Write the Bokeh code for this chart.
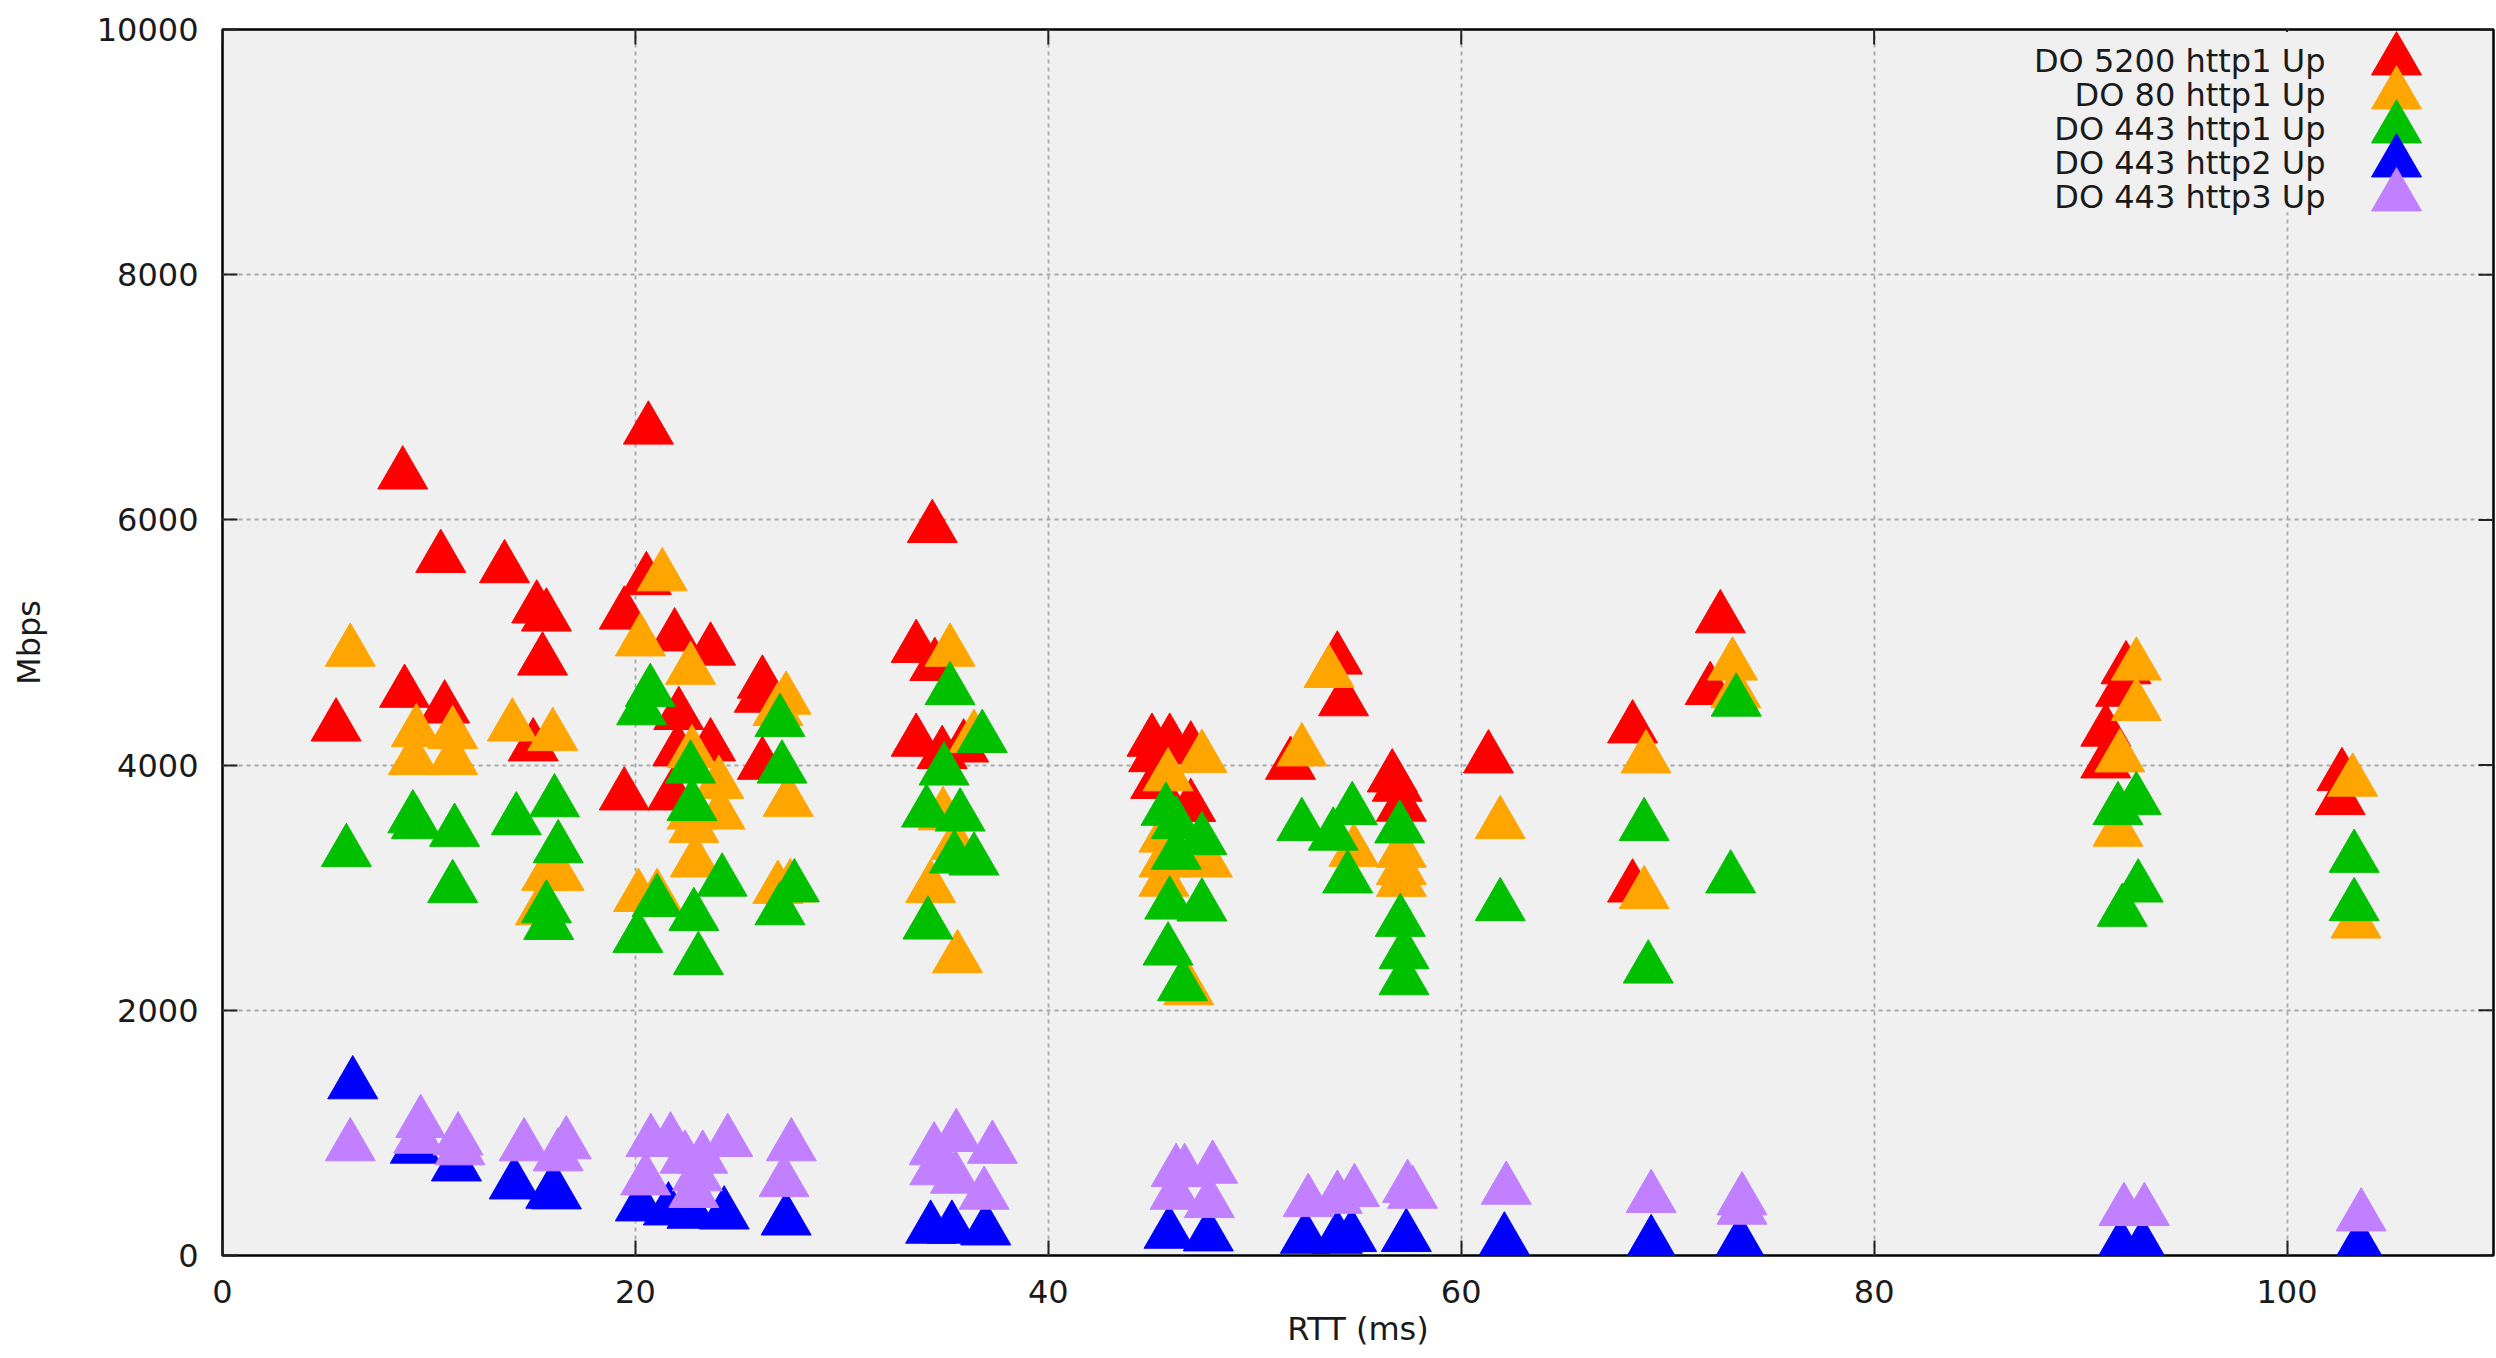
import math
from bokeh.plotting import figure
from bokeh.models import Range1d, FixedTicker
from bokeh.embed import file_html
from bokeh.resources import INLINE
from bokeh.core.properties import value

# ---------------- data ----------------
series_names = ["DO 5200 http1 Up", "DO 80 http1 Up", "DO 443 http1 Up",
                "DO 443 http2 Up", "DO 443 http3 Up"]
series_colors = ["#ff0000", "#ffa500", "#00c000", "#0000ff", "#c080ff"]

x_ticks = [0, 20, 40, 60, 80, 100]
y_ticks = [0, 2000, 4000, 6000, 8000, 10000]

red_rtt = [5.5, 8.73, 8.82, 10.57, 10.76, 13.66, 15.22, 15.69, 15.5, 15.05,
           20.63, 20.53, 19.46, 19.46, 21.9, 23.64, 22.1, 23.64, 22.05, 21.8,
           26.15, 26.0, 26.15, 34.38, 33.6, 34.5, 33.6, 34.86, 35.9,
           45.02, 45.88, 46.9, 45.1, 45.2, 46.9, 51.73, 54.0, 54.3,
           56.66, 56.9, 57.1, 61.32, 68.3, 68.3, 72.55, 72.06,
           92.2, 91.94, 91.22, 91.22, 102.66, 102.57]
red_mbps = [4314, 6370, 4589, 5689, 4461, 5605, 5277, 5211, 4852, 4152,
            6736, 5508, 5227, 3752, 5049, 4933, 4408, 4152, 4111, 3752,
            4664, 4549, 4002, 5933, 4955, 4808, 4190, 4090, 4143,
            4190, 4190, 4127, 4064, 3846, 3658, 4002, 4860, 4520,
            3899, 3823, 3660, 4054, 4299, 3001, 5197, 4612,
            4781, 4598, 4272, 4013, 3910, 3714]

orange_rtt = [6.19, 9.39, 9.25, 11.15, 11.15, 14.04, 16.0, 15.7, 16.3, 15.4,
              21.3, 20.24, 20.15, 22.67, 22.74, 24.04, 22.74, 24.1, 22.83, 22.9, 21.05,
              27.3, 26.9, 27.4, 27.5, 26.9, 35.24, 36.4, 34.9, 35.5, 34.3, 35.6,
              47.44, 45.8, 45.6, 45.6, 47.7, 45.6, 46.8, 53.6, 52.28, 54.8,
              57.1, 57.1, 57.1, 61.89, 68.95, 68.86, 73.14, 73.3,
              92.7, 92.7, 91.9, 91.81, 103.18, 103.34]
orange_mbps = [4924, 4268, 4040, 4252, 4040, 4314, 4236, 3096, 3096, 2815,
               5539, 5008, 2924, 4777, 4096, 3846, 3596, 3596, 3487, 3205, 2924,
               4533, 4440, 3700, 3002, 2990, 4924, 4221, 3590, 3346, 2996, 2424,
               4058, 3908, 3408, 3205, 3205, 3049, 2163, 4751, 4111, 3292,
               3284, 3143, 3047, 3518, 4054, 2947, 4811, 4585,
               4811, 4481, 4062, 3456, 3864, 2707]

green_rtt = [6.0, 9.22, 9.39, 11.24, 11.15, 14.23, 16.08, 16.26, 15.69, 15.8,
             20.3, 20.72, 20.12, 22.67, 22.74, 21.05, 22.83, 24.2, 23.05,
             27.0, 27.1, 27.7, 27.0, 35.24, 36.8, 34.95, 34.1, 35.73, 35.45, 36.4, 34.17,
             45.7, 46.2, 47.44, 46.2, 45.88, 47.44, 45.8, 46.5,
             52.28, 53.8, 54.72, 54.5, 57.02, 57.05, 57.23, 57.23, 61.89,
             68.86, 69.06, 73.32, 73.05, 91.81, 92.7, 92.79, 92.02, 103.25, 103.25]
green_mbps = [3290, 3565, 3518, 3455, 2996, 3549, 3696, 3321, 2831, 2696,
              4446, 4596, 2590, 3971, 3665, 2883, 2768, 3049, 2409,
              4352, 3971, 3002, 2815, 4611, 4221, 3955, 3612, 3580, 3237, 3221, 2699,
              3627, 3518, 3387, 3268, 2862, 2846, 2487, 2196,
              3502, 3424, 3633, 3075, 3483, 2721, 2457, 2245, 2849,
              3502, 2340, 4517, 3075, 3632, 3714, 3001, 2803, 3243, 2849]

blue_rtt = [6.31, 9.34, 11.33, 14.13, 16.17, 15.9, 20.24, 21.6, 22.74, 24.3,
            27.3, 34.3, 35.33, 36.97, 45.85, 47.75, 52.45, 54.0, 54.69, 57.34,
            62.09, 69.2, 73.5, 91.94, 93.0, 103.5]
blue_mbps = [1396, 871, 726, 579, 498, 503, 400, 367, 340, 334,
             285, 218, 218, 204, 177, 155, 136, 136, 150, 150,
             122, 100, 100, 73, 73, 81]

purple_rtt = [6.19, 9.6, 9.5, 11.41, 11.5, 14.61, 16.65, 16.26,
              20.75, 21.7, 23.26, 24.47, 20.5, 22.83, 22.4, 23.0,
              27.55, 27.2, 35.54, 34.47, 37.29, 34.5, 35.5, 36.89,
              46.19, 46.6, 47.96, 46.14, 47.8, 52.59, 54.0, 54.83,
              57.64, 57.4, 62.18, 69.2, 73.6, 73.6, 92.1, 93.09, 103.59]
purple_mbps = [890, 1080, 952, 938, 857, 890, 906, 808,
               925, 938, 789, 925, 612, 509, 789, 645,
               890, 598, 966, 857, 870, 694, 626, 495,
               680, 680, 707, 495, 427, 435, 462, 517,
               503, 550, 536, 468, 373, 449, 362, 362, 318]

series_x = [red_rtt, orange_rtt, green_rtt, blue_rtt, purple_rtt]
series_y = [red_mbps, orange_mbps, green_mbps, blue_mbps, purple_mbps]

# ---------------- style ----------------
FONT = "DejaVu Sans"
FSIZE = "32px"
TXT = "#1a1a1a"
MSIZE = 50
TICK_LEN = 15

p = figure(width=2496, height=1358,
           x_range=Range1d(0, 110), y_range=Range1d(0, 10000),
           output_backend="svg", toolbar_location=None,
           min_border_left=222, min_border_right=3,
           min_border_top=29, min_border_bottom=103,
           background_fill_color="#f0f0f0", border_fill_color="white")

p.outline_line_color = "black"
p.outline_line_width = 2.5

for ax, ticks in ((p.xaxis[0], x_ticks), (p.yaxis[0], y_ticks)):
    ax.ticker = FixedTicker(ticks=ticks)
    ax.axis_line_color = None
    ax.major_tick_in = TICK_LEN
    ax.major_tick_out = 0
    ax.major_tick_line_width = 2
    ax.major_tick_line_color = "#222222"
    ax.minor_tick_line_color = None
    ax.major_label_text_font = FONT
    ax.major_label_text_font_size = FSIZE
    ax.major_label_text_color = TXT
    ax.axis_label_text_font = FONT
    ax.axis_label_text_font_size = FSIZE
    ax.axis_label_text_font_style = "normal"
    ax.axis_label_text_color = TXT

p.xaxis.axis_label = "RTT (ms)"
p.xaxis.major_label_standoff = 24
p.xaxis.axis_label_standoff = 4
p.yaxis.axis_label = "Mbps"
p.yaxis.major_label_standoff = 24
p.yaxis.axis_label_standoff = 46

p.grid.grid_line_color = "#a8a8a8"
p.grid.grid_line_dash = "4 4"
p.grid.grid_line_width = 1.8

# frame-relative range used for legend and mirrored ticks
p.extra_x_ranges = {"frame": Range1d(0, 1)}
p.extra_y_ranges = {"frame": Range1d(0, 1)}

# ---------------- data marks ----------------
for xs, ys, c in zip(series_x, series_y, series_colors):
    p.scatter(x=xs, y=ys, marker="triangle", size=MSIZE,
              fill_color=c, line_color=c, line_width=1)

# mirrored inward ticks on the top and right borders
p.scatter(x=x_ticks, y=[1.0] * len(x_ticks), y_range_name="frame",
          marker="dash", size=2 * TICK_LEN, angle=math.pi / 2,
          line_color="#222222", line_width=2)
p.scatter(x=[1.0] * len(y_ticks), y=y_ticks, x_range_name="frame",
          marker="dash", size=2 * TICK_LEN,
          line_color="#222222", line_width=2)

# ---------------- legend (top right, text left of sample) ----------------
row_top = 0.9747
row_step = 0.02773
leg_y = [row_top - i * row_step for i in range(len(series_names))]

p.quad(left=[0.797], right=[0.975], top=[0.998], bottom=[0.851],
       fill_color="#f0f0f0", line_color=None,
       x_range_name="frame", y_range_name="frame")
p.scatter(x=[0.9573] * len(series_names), y=leg_y, marker="triangle",
          size=MSIZE, fill_color=series_colors, line_color=series_colors,
          x_range_name="frame", y_range_name="frame")
p.text(x=[0.926] * len(series_names), y=leg_y, text=series_names,
       text_align="right", text_baseline="middle",
       text_font=value(FONT), text_font_size=value(FSIZE), text_color=TXT,
       x_range_name="frame", y_range_name="frame")

open("out.html", "w").write(file_html(p, INLINE))
